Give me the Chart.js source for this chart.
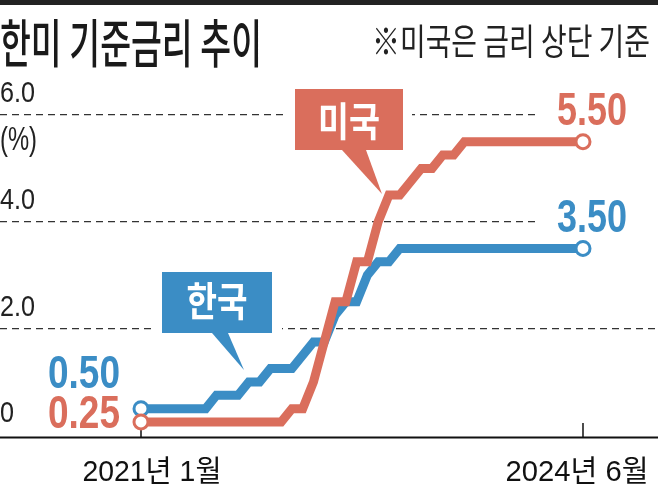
<!DOCTYPE html>
<html><head><meta charset="utf-8">
<script src="https://cdn.jsdelivr.net/npm/chart.js@4"></script>
<style>html,body{margin:0;padding:0;background:#fff;}#wrap{width:658px;height:488px;}</style>
</head><body><div id="wrap"><canvas id="c" width="658" height="488"></canvas></div>
<script>
// ---- data ----
const months = [
 '2021-01','2021-02','2021-03','2021-04','2021-05','2021-06','2021-07','2021-08','2021-09','2021-10','2021-11','2021-12',
 '2022-01','2022-02','2022-03','2022-04','2022-05','2022-06','2022-07','2022-08','2022-09','2022-10','2022-11','2022-12',
 '2023-01','2023-02','2023-03','2023-04','2023-05','2023-06','2023-07','2023-08','2023-09','2023-10','2023-11','2023-12',
 '2024-01','2024-02','2024-03','2024-04','2024-05','2024-06'];
const koreaRate = [
 0.50,0.50,0.50,0.50,0.50,0.50,0.50,0.75,0.75,0.75,1.00,1.00,
 1.25,1.25,1.25,1.50,1.75,1.75,2.25,2.50,2.50,3.00,3.25,3.25,
 3.50,3.50,3.50,3.50,3.50,3.50,3.50,3.50,3.50,3.50,3.50,3.50,
 3.50,3.50,3.50,3.50,3.50,3.50];
const usRate = [
 0.25,0.25,0.25,0.25,0.25,0.25,0.25,0.25,0.25,0.25,0.25,0.25,
 0.25,0.25,0.50,0.50,1.00,1.75,2.50,2.50,3.25,3.25,4.00,4.50,
 4.50,4.75,5.00,5.00,5.25,5.25,5.50,5.50,5.50,5.50,5.50,5.50,
 5.50,5.50,5.50,5.50,5.50,5.50];
const yTickValues = [0, 2, 4, 6];
const yTickLabels = ['0', '2.0', '4.0', '6.0'];
const xTickIndex = [0, 41];
const xTickLabels = ['2021년 1월', '2024년 6월'];
const titleText = '한미 기준금리 추이';
const noteText = '※미국은 금리 상단 기준';
const unitText = '(%)';
const koreaName = '한국';
const usName = '미국';

const RED = '#da6e5c';
const BLUE = '#3b8dc5';
const NARROW = '"Liberation Sans Narrow","Liberation Sans",sans-serif';
const KR = '"Noto Sans CJK KR",sans-serif';

function txs(ctx, s, x, y, font, color, sx, align) {
  ctx.save();
  ctx.font = font;
  ctx.translate(x, y);
  ctx.scale(sx, 1);
  ctx.textAlign = align;
  ctx.textBaseline = 'alphabetic';
  ctx.fillStyle = color;
  ctx.fillText(s, 0, 0);
  ctx.restore();
}
function tx(ctx, s, x, y, font, color, w, align) {
  ctx.save();
  ctx.font = font;
  const m = ctx.measureText(s).width;
  ctx.restore();
  txs(ctx, s, x, y, font, color, w / m, align);
}
function callout(ctx, bx, by, bw, bh, tail, color, margin) {
  ctx.save();
  ctx.fillStyle = '#fff';
  ctx.fillRect(bx - margin, by - margin, bw + 2 * margin, bh + 2 * margin);
  ctx.fillStyle = color;
  ctx.fillRect(bx, by, bw, bh);
  ctx.beginPath();
  ctx.moveTo(tail[0][0], tail[0][1]);
  ctx.lineTo(tail[1][0], tail[1][1]);
  ctx.lineTo(tail[2][0], tail[2][1]);
  ctx.closePath();
  ctx.fill();
  ctx.restore();
}

const decor = {
  id: 'decor',
  beforeDraw(chart) {
    const ctx = chart.ctx;
    ctx.save();
    ctx.fillStyle = '#fff';
    ctx.fillRect(0, 0, chart.width, chart.height);
    ctx.fillStyle = '#222';
    ctx.fillRect(0, 0, chart.width, 5);
    ctx.restore();
  },
  beforeDatasetsDraw(chart) {
    const ctx = chart.ctx;
    const xs = chart.scales.x, ys = chart.scales.y;
    const last = months.length - 1;
    // white backing behind end labels (hides grid)
    ctx.save();
    ctx.fillStyle = '#fff';
    ctx.fillRect(540, 86, 118, 44);
    ctx.fillRect(540, 193, 118, 44);
    ctx.restore();
    // y tick labels (from the y scale)
    const tf = '30px ' + NARROW;
    ctx.save(); ctx.font = tf; const sxT = 35 / ctx.measureText('6.0').width; ctx.restore();
    ys.ticks.forEach(t => {
      const lbl = yTickLabels[yTickValues.indexOf(t.value)];
      txs(ctx, lbl, 0, ys.getPixelForValue(t.value) - 13, tf, '#222', sxT, 'left');
    });
    tx(ctx, unitText, 0, 150, '34px ' + NARROW, '#222', 37, 'left');
    // callouts
    callout(ctx, 295, 89, 108, 61, [[342,150],[366,150],[382,194]], RED, 9);
    callout(ctx, 162, 272, 110, 61, [[212,333],[228,333],[244,370]], BLUE, 10);
    tx(ctx, usName, 349, 136, 'bold 40px ' + KR, '#fff', 62, 'center');
    tx(ctx, koreaName, 217, 316, 'bold 40px ' + KR, '#fff', 61, 'center');
    // x axis line + ticks
    const yb = ys.bottom;
    ctx.save();
    ctx.strokeStyle = '#111';
    ctx.lineWidth = 2;
    ctx.beginPath();
    ctx.moveTo(0, yb - 0.5); ctx.lineTo(chart.width, yb - 0.5);
    ctx.stroke();
    ctx.lineWidth = 1.5;
    xTickIndex.forEach(i => {
      const px = xs.getPixelForValue(i);
      ctx.beginPath(); ctx.moveTo(px, yb - 15); ctx.lineTo(px, yb); ctx.stroke();
    });
    ctx.restore();
    // x labels
    tx(ctx, xTickLabels[0], xs.getPixelForValue(xTickIndex[0]) + 11, 481, '30px ' + NARROW + ',' + KR, '#111', 139, 'center');
    tx(ctx, xTickLabels[1], xs.getPixelForValue(xTickIndex[1]) - 6, 481, '30px ' + NARROW + ',' + KR, '#111', 143, 'center');
    // texts
    tx(ctx, titleText, 0, 63, '500 52px ' + KR, '#1a1a1a', 262, 'left');
    tx(ctx, noteText, 372, 55, '400 36px ' + KR, '#222', 278, 'left');
    // value labels
    const vf = 'bold 46px ' + NARROW;
    tx(ctx, usRate[last].toFixed(2), 557, 125, vf, RED, 70, 'left');
    tx(ctx, koreaRate[last].toFixed(2), 557, 232, vf, BLUE, 70, 'left');
    tx(ctx, koreaRate[0].toFixed(2), 48, 388, vf, BLUE, 72, 'left');
    tx(ctx, usRate[0].toFixed(2), 48, 428, vf, RED, 72, 'left');
  }
};

const last = months.length - 1;
const endRadius = c => (c.dataIndex === 0 || c.dataIndex === last) ? 7 : 0;
const toPts = arr => arr.map((v, i) => ({ x: i, y: v }));

new Chart(document.getElementById('c'), {
  type: 'line',
  data: {
    datasets: [
      { label: usName, data: toPts(usRate), borderColor: RED, borderWidth: 9, tension: 0,
        pointRadius: endRadius, pointBorderWidth: 3, pointBackgroundColor: '#fff', pointBorderColor: RED,
        borderJoinStyle: 'miter', clip: false },
      { label: koreaName, data: toPts(koreaRate), borderColor: BLUE, borderWidth: 9, tension: 0,
        pointRadius: endRadius, pointBorderWidth: 3, pointBackgroundColor: '#fff', pointBorderColor: BLUE,
        borderJoinStyle: 'miter', clip: false }
    ]
  },
  options: {
    responsive: false,
    devicePixelRatio: 1,
    animation: false,
    events: [],
    layout: { autoPadding: false, padding: { top: 115, bottom: 50, left: 0, right: 0 } },
    plugins: { legend: { display: false }, tooltip: { enabled: false } },
    scales: {
      x: { type: 'linear', min: -13.079, max: 47.957, display: false },
      y: {
        min: -0.05, max: 6,
        afterBuildTicks: s => { s.ticks = yTickValues.map(v => ({ value: v })); },
        ticks: { display: false },
        grid: { color: c => (c.tick && c.tick.value === 0) ? 'rgba(0,0,0,0)' : '#333', lineWidth: 1.2, drawTicks: false },
        border: { display: false, dash: [7, 5] }
      }
    }
  },
  plugins: [decor]
});
</script>
</body></html>
